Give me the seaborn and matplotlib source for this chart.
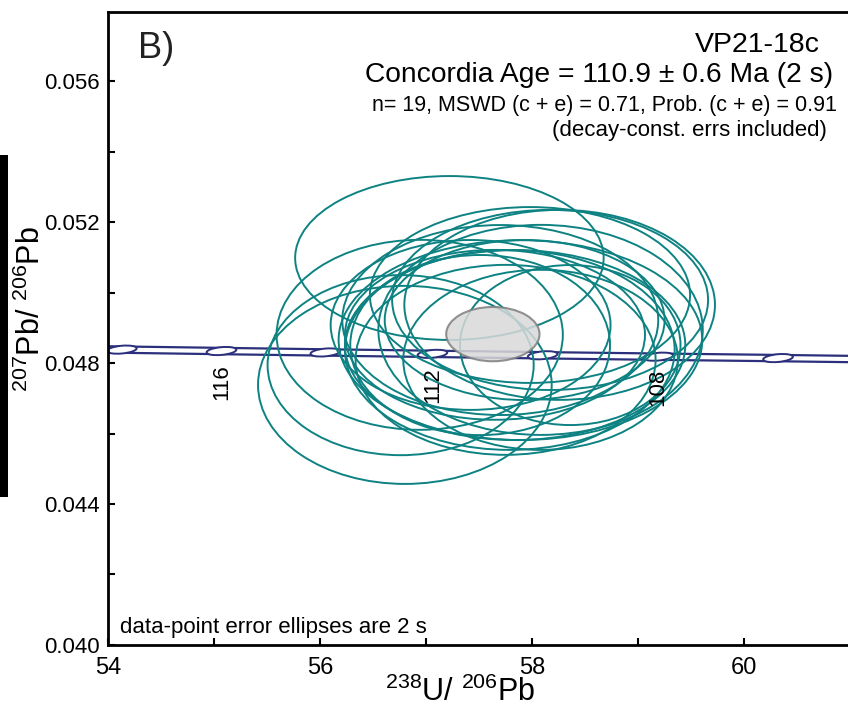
import matplotlib
matplotlib.use('Agg')
import matplotlib.pyplot as plt
import seaborn as sns
import pandas as pd
from matplotlib.patches import Ellipse, Rectangle
from matplotlib.ticker import MultipleLocator, FormatStrFormatter

# concordia age marks (Ma) and their positions (238U/206Pb, 207Pb/206Pb)
ages = [118, 116, 114, 112, 110, 108, 106]
conc_x = [54.13, 55.07, 56.05, 57.06, 58.10, 59.19, 60.32]
conc_y = [0.04838, 0.04834, 0.04830, 0.04826, 0.04822, 0.04818, 0.04814]
# ends of the concordia curve beyond the plotted marks
curve_x = [53.9] + conc_x + [61.1]
curve_y = [0.04839] + conc_y + [0.04811]
band_half = 0.00009
labelled_ages = [116, 112, 108]

# data-point error ellipses (2s): centre, full width, full height
ell_x = [57.22, 56.80, 56.76, 56.94, 58.26, 58.17, 57.98, 58.08, 57.89, 57.70,
         57.84, 57.65, 57.79, 57.51, 58.36, 57.93, 57.75, 57.42, 58.08]
ell_y = [0.05098, 0.04738, 0.04794, 0.04880, 0.04965, 0.04979, 0.04993, 0.04894,
         0.04865, 0.04922, 0.04851, 0.04880, 0.04837, 0.04851, 0.04851, 0.04922,
         0.04809, 0.04908, 0.04809]
ell_w = [2.91, 2.77, 2.51, 2.70, 2.93, 2.98, 3.02, 3.06, 3.43, 2.98,
         3.21, 2.83, 3.11, 2.45, 2.08, 2.64, 2.83, 2.64, 2.59]
ell_h = [0.00465, 0.00562, 0.00511, 0.00539, 0.00539, 0.00511, 0.00499, 0.00596,
         0.00567, 0.00539, 0.00539, 0.00482, 0.00567, 0.00511, 0.00454, 0.00454,
         0.00539, 0.00482, 0.00511]

# concordia age ellipse
mean_x, mean_y = 57.63, 0.04882
mean_w, mean_h = 0.88, 0.00154

sns.set_theme(style='white')
plt.rcParams['font.family'] = ['Liberation Sans', 'DejaVu Sans']
plt.rcParams['mathtext.fontset'] = 'custom'
plt.rcParams['mathtext.rm'] = 'Liberation Sans'
plt.rcParams['mathtext.it'] = 'Liberation Sans'

teal = '#0e8282'
navy = '#2b2f7c'

fig = plt.figure(figsize=(8.48, 7.18), dpi=100)
ax = fig.add_axes([0.1274, 0.1017, 0.8726, 0.8816])

# data ellipses
for x, y, w, h in zip(ell_x, ell_y, ell_w, ell_h):
    ax.add_patch(Ellipse((x, y), w, h, facecolor='none', edgecolor=teal, lw=1.4, zorder=3))

# concordia band
conc = pd.DataFrame({'x': curve_x, 'y': curve_y})
sns.lineplot(data=conc, x=conc['x'], y=conc['y'] + band_half, color=navy, lw=1.6,
             sort=False, ax=ax, zorder=2)
sns.lineplot(data=conc, x=conc['x'], y=conc['y'] - band_half, color=navy, lw=1.6,
             sort=False, ax=ax, zorder=2)
for a, x, y in zip(ages, conc_x, conc_y):
    # tiny data-space angle gives a slight slant on screen
    ax.add_patch(Ellipse((x, y), 0.28, 0.00022, angle=0.015, facecolor='white',
                         edgecolor=navy, lw=1.4, zorder=2.5))
    if a in labelled_ages:
        ax.text(x, y - 0.00088, str(a), rotation=90, ha='center', va='center',
                fontsize=16, color='black', zorder=4)

ax.add_patch(Ellipse((mean_x, mean_y), mean_w, mean_h, facecolor='#d9d9d9',
                     edgecolor='#7f7f7f', lw=1.5, alpha=0.85, zorder=5))

ax.set_xlim(54, 60.98)
ax.set_ylim(0.040, 0.05796)
ax.xaxis.set_major_locator(MultipleLocator(2))
ax.xaxis.set_minor_locator(MultipleLocator(1))
ax.yaxis.set_major_locator(MultipleLocator(0.004))
ax.yaxis.set_minor_locator(MultipleLocator(0.002))
ax.yaxis.set_major_formatter(FormatStrFormatter('%.3f'))
ax.tick_params(which='both', direction='in', length=5, width=1.5, color='black',
               labelsize=16, labelcolor='black', bottom=True, left=True)
ax.tick_params(axis='x', pad=9, labelsize=17)
ax.tick_params(axis='y', pad=6)

for side in ['left', 'top', 'bottom']:
    ax.spines[side].set_color('black')
    ax.spines[side].set_linewidth(2)
ax.spines['right'].set_visible(False)

ax.set_xlabel(r'$^{238}$U/ $^{206}$Pb', fontsize=22, color='black')
ax.set_ylabel(r'$^{207}$Pb/ $^{206}$Pb', fontsize=22, color='black')
ax.xaxis.set_label_coords(0.476, -0.050)
ax.yaxis.set_label_coords(-0.082, 0.53)

ax.text(0.041, 0.943, 'B)', transform=ax.transAxes, fontsize=26, color='#222222',
        ha='left', va='center')
ax.text(0.962, 0.948, 'VP21-18c', transform=ax.transAxes, fontsize=20.5,
        ha='right', va='center', color='black')
ax.text(0.980, 0.900, 'Concordia Age = 110.9 \u00b1 0.6 Ma (2 s)', transform=ax.transAxes,
        fontsize=20.3, ha='right', va='center', color='black')
ax.text(0.985, 0.853, 'n= 19, MSWD (c + e) = 0.71, Prob. (c + e) = 0.91',
        transform=ax.transAxes, fontsize=15.5, ha='right', va='center', color='black')
ax.text(0.972, 0.812, '(decay-const. errs included)', transform=ax.transAxes,
        fontsize=16, ha='right', va='center', color='black')
ax.text(0.016, 0.027, 'data-point error ellipses are 2 s', transform=ax.transAxes,
        fontsize=16, ha='left', va='center', color='black')

# black bar at the left edge of the figure
fig.patches.append(Rectangle((0, 0.3078), 0.0094, 0.476, transform=fig.transFigure,
                             facecolor='black', edgecolor='none'))

fig.savefig('out.png', dpi=100)
